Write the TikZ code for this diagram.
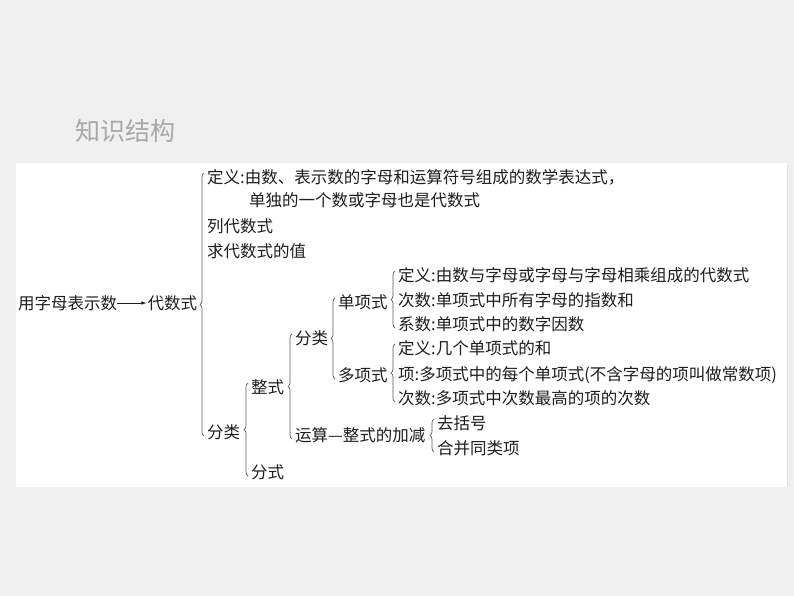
\documentclass[tikz,border=0pt]{standalone}
\usepackage{fontspec}
\setmainfont{Noto Sans CJK SC}
\usetikzlibrary{arrows.meta, decorations.pathreplacing, positioning}

\definecolor{bggray}{HTML}{F0F0F0}
\definecolor{ink}{HTML}{1E1E1E}
\definecolor{bracegray}{HTML}{5A5A5A}
\definecolor{titlegray}{HTML}{A8A8A8}

\begin{document}
\begin{tikzpicture}[
    x=1pt, y=-1pt,
    font=\fontsize{16.5}{19}\selectfont,
    txt/.style={anchor=west, inner sep=0pt, text=ink},
    title/.style={anchor=west, inner sep=0pt, text=titlegray, font=\fontsize{25}{28}\selectfont},
    brc/.style={draw=bracegray, line width=0.7pt, decorate, decoration={brace, amplitude=4pt}},
    arrow/.style={-{Latex[length=5pt, width=3.5pt]}, draw=ink, line width=0.6pt, shorten >=1pt}
]
    \useasboundingbox[fill=bggray] (0,0) rectangle (794,596);
    \fill[white] (16,163) rectangle (787,487);
    \draw[gray!25] (787,165) -- (787,487);

    % title
    \node[title] (tit) at (75,131) {知识结构};

    % root
    \node[txt] (yong) at (18,303) {用字母表示数};
    \node[txt, right=30pt of yong] (dai) {代数式};
    \draw[arrow] (yong) -- (dai);

    % first level
    \node[txt] (def1) at (207,177) {定义:由数、表示数的字母和运算符号组成的数学表达式，};
    \node[txt] (def1b) at (249,200) {单独的一个数或字母也是代数式};
    \node[txt] (lie) at (207,226) {列代数式};
    \node[txt] (qiu) at (207,251) {求代数式的值};
    \node[txt] (fenlei) at (207,432) {分类};
    \draw[brc] ([xshift=-3pt, yshift=-4pt]fenlei.west) -- ([xshift=-3pt, yshift=4pt]def1.west);

    % classification
    \node[txt] (zheng) at (251,387) {整式};
    \node[txt] (fen) at (251,472) {分式};
    \draw[brc] ([xshift=-3pt, yshift=-4pt]fen.west) -- ([xshift=-3pt, yshift=4pt]zheng.west);

    \node[txt] (fenlei2) at (295,338) {分类};
    \node[txt] (yunsuan) at (295,435) {运算—整式的加减};
    \draw[brc] ([xshift=-3pt, yshift=-4pt]yunsuan.west) -- ([xshift=-3pt, yshift=4pt]fenlei2.west);

    \node[txt] (dan) at (338,302) {单项式};
    \node[txt] (duo) at (338,375) {多项式};
    \draw[brc] ([xshift=-3pt, yshift=-4pt]duo.west) -- ([xshift=-3pt, yshift=4pt]dan.west);

    % monomial
    \node[txt] (dandef) at (398,275) {定义:由数与字母或字母与字母相乘组成的代数式};
    \node[txt] (danci) at (398,300) {次数:单项式中所有字母的指数和};
    \node[txt] (danxi) at (398,324) {系数:单项式中的数字因数};
    \draw[brc] ([xshift=-3pt, yshift=-4pt]danxi.west) -- ([xshift=-3pt, yshift=4pt]dandef.west);

    % polynomial
    \node[txt] (duodef) at (398,348) {定义:几个单项式的和};
    \node[txt] (duoxiang) at (398,375) {项:多项式中的每个单项式(不含字母的项叫做常数项)};
    \node[txt] (duoci) at (398,398) {次数:多项式中次数最高的项的次数};
    \draw[brc] ([xshift=-3pt, yshift=-4pt]duoci.west) -- ([xshift=-3pt, yshift=4pt]duodef.west);

    % addition and subtraction
    \node[txt] (qu) at (437,423) {去括号};
    \node[txt] (hebing) at (437,448) {合并同类项};
    \draw[brc] ([xshift=-3pt, yshift=-4pt]hebing.west) -- ([xshift=-3pt, yshift=4pt]qu.west);
\end{tikzpicture}
\end{document}
